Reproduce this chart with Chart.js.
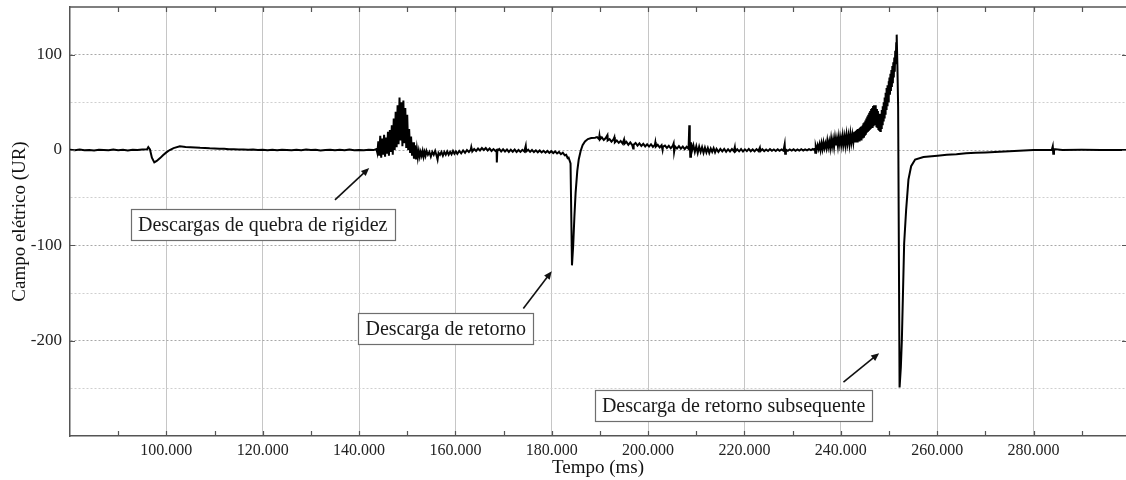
<!DOCTYPE html>
<html>
<head>
<meta charset="utf-8">
<script src="https://cdn.jsdelivr.net/npm/chart.js@4.4.1/dist/chart.umd.min.js"></script>
<style>
    html, body { margin: 0; padding: 0; background: #fff; }
</style>
</head>
<body>
<canvas id="fieldChart" width="1126" height="480"></canvas>
<script>
// ### FIELD RECORD (time ms, field UR) ###
// Quiet stretch with the small dip near 97 ms
const quietStart = [
    [80, 0.3], [81, -0.2], [82, 0.4], [83, -0.3], [84, 0.1], [85, -0.4], [86, 0.3], [87, 0],
    [88, -0.3], [89, 0.4], [90, -0.2], [91, 0.2], [92, -0.4], [93, 0.3], [94, -0.1], [95, 0.5],
    [96, 0.8], [96.25, 3], [96.6, 0.5], [97.0, -8], [97.5, -13], [98.0, -11.5], [98.7, -8.5],
    [99.3, -5.5], [100, -2.5], [100.7, 0], [101.5, 2], [102.8, 3.8], [104, 3.2], [105, 2.9],
    [106, 2.7], [107, 2.3], [108, 2.2], [109, 1.8], [110, 1.7], [111, 1.3], [112, 1.2], [113, 0.9],
    [114, 0.8], [115, 0.5], [116, 0.6], [117, 0.2], [118, 0.4], [119, -0.1], [120, 0.3],
    [121, -0.2], [122, 0.2], [123, -0.3], [124, 0.3], [125, 0], [126, -0.3], [127, 0.2],
    [128, -0.2], [129, 0.4], [130, -0.1], [131, 0.2], [132, -0.4], [133, 0.1], [134, 0.3],
    [135, -0.3], [136, 0.2], [137, -0.2], [138, 0.4], [139, -0.3], [140, 0.1], [141, -0.2],
    [142, 0.3], [143, -0.1]
];

// Preliminary breakdown burst
const breakdownBurst = [
    [143.6, 1], [143.8, -3], [144.0, 9], [144.2, -6], [144.4, 15], [144.6, -8], [144.8, 12],
    [145.0, -5], [145.2, 16], [145.4, -7], [145.6, 13], [145.8, -4], [146.0, 19], [146.2, -6],
    [146.4, 21], [146.6, -2], [146.8, 26], [147.0, -5], [147.2, 33], [147.4, 0], [147.6, 40],
    [147.8, 3], [148.0, 47], [148.2, 6], [148.4, 55], [148.6, 10], [148.8, 50], [149.0, 4],
    [149.2, 52], [149.4, 7], [149.6, 44], [149.8, 2], [150.0, 37], [150.2, 0], [150.4, 22],
    [150.6, -3], [150.8, 14], [151.0, -6], [151.2, 8], [151.4, -9], [151.6, 5], [151.8, -10],
    [152.0, 1], [152.2, -8], [152.4, -1], [152.6, -7], [152.8, -2]
];

// Between the burst and the first return stroke
const beforeReturn = [
    [153.0, -6], [153.2, -1], [153.4, -7], [153.6, -2], [153.8, -6], [154.0, -1], [154.3, -5],
    [154.6, -2], [154.9, -7], [155.2, -2], [155.5, -5], [155.8, -1], [156.1, -6], [156.3, -10],
    [156.5, -3], [156.8, -5], [157.1, -2], [157.4, -6], [157.7, -2], [158.0, -5], [158.3, -1.5],
    [158.6, -5], [158.9, -2], [159.2, -4.5], [159.5, -1], [159.8, -4], [160.1, -1.5], [160.4, -4],
    [160.8, -1], [161.2, -3.5], [161.6, -0.5], [162.0, -3], [162.4, 0], [162.8, -2], [163.2, 0.5],
    [163.3, 3], [163.5, -1.5], [163.9, 1], [164.3, -1], [164.7, 1.5], [165.1, -0.5], [165.5, 2],
    [165.9, 0], [166.3, 2], [166.7, -0.5], [167.1, 1.5], [167.5, -1], [167.9, 1], [168.3, -1],
    [168.55, 0], [168.6, -13], [168.7, -1], [169.1, 1], [169.5, -1.5], [169.9, 0.8], [170.3, -1.5],
    [170.7, 0.5], [171.1, -2], [171.5, 0.3], [171.9, -1.8], [172.3, 0.5], [172.7, -2], [173.1, 0],
    [173.5, -2], [173.9, 0.2], [174.3, -1.5], [174.6, 4.5], [174.7, -1.5], [175.1, 0.3], [175.5, -2],
    [175.9, 0], [176.3, -2.2], [176.7, -0.3], [177.1, -2.4], [177.5, -0.5], [177.9, -2.6],
    [178.3, -0.8], [178.7, -2.8], [179.1, -1], [179.5, -3], [179.9, -1.2], [180.3, -3.2],
    [180.7, -1.5], [181.1, -3.6], [181.5, -2], [181.9, -4.4], [182.3, -2.8], [182.7, -5.5],
    [183.0, -5], [183.3, -8.5], [183.5, -8], [183.7, -11]
];

// First return stroke
const firstReturn = [
    [183.9, -14], [184.2, -121], [184.45, -100], [184.7, -70], [184.95, -45], [185.3, -22],
    [185.6, -10], [186.0, -1], [186.4, 5], [186.9, 9], [187.5, 11.5], [188.2, 12.5], [189.0, 12.8]
];

// Interval between strokes
const interStroke = [
    [189.4, 13.5], [189.8, 11.5], [189.9, 15], [190.0, 11], [190.4, 13.2], [190.8, 10.5],
    [191.2, 12.5], [191.55, 15.5], [191.6, 10], [192.0, 11.5], [192.4, 8.8], [192.8, 11],
    [193.0, 13.5], [193.1, 8], [193.5, 10], [193.9, 7.5], [194.3, 9.5], [194.7, 6.8], [195.0, 11],
    [195.1, 6.5], [195.5, 8.5], [195.9, 5.5], [196.3, 8], [196.7, 5.2], [196.9, 1.5], [197.0, 5.5],
    [197.4, 7.4], [197.8, 4.6], [198.2, 7], [198.6, 4.2], [199.0, 6.5], [199.4, 3.8], [199.8, 6],
    [200.2, 3.6], [200.6, 6], [201.0, 3.2], [201.4, 5.4], [201.5, 8], [201.6, 3.5], [202.0, 5.4],
    [202.4, 2.8], [202.8, 5], [203.0, 0], [203.1, 3.5], [203.5, 4.6], [203.9, 2.2], [204.3, 4.4],
    [204.7, 1.8], [205.1, 4.2], [205.3, 7], [205.4, -2], [205.6, 3.8], [206.0, 1.5], [206.4, 4],
    [206.8, 1.4], [207.2, 3.6], [207.6, 1], [208.0, 3.4], [208.4, 1.2], [208.55, 26], [208.65, 10],
    [208.75, -7], [208.9, 8], [209.1, -1], [209.4, 5], [209.7, -2], [210.0, 4], [210.3, -3],
    [210.6, 3.5], [210.9, -2], [211.2, 3], [211.5, -3], [211.8, 2.5], [212.1, -2.5], [212.4, 2],
    [212.7, -3], [213.0, 1.5], [213.3, -2], [213.6, 2], [213.9, -2.5], [214.2, 1.2], [214.6, -2],
    [215.0, 1], [215.4, -1.5], [215.8, 1.2], [216.2, -1.8], [216.6, 0.8], [217.0, -1.5], [217.4, 1],
    [217.8, -1.2], [218.0, 3], [218.1, -1.5], [218.5, 0.8], [218.9, -1.4], [219.3, 1], [219.7, -1.6],
    [220.1, 0.7], [220.5, -1.2], [220.9, 1.1], [221.3, -1.3], [221.7, 0.6], [222.1, -1.4],
    [222.5, 0.9], [222.9, -1], [223.2, 2.5], [223.3, -1.2], [223.7, 0.8], [224.1, -1.1], [224.5, 0.6],
    [224.9, -1], [225.3, 0.9], [225.7, -0.8], [226.1, 0.6], [226.5, -1], [226.9, 0.7], [227.3, -0.8],
    [227.7, 0.5], [228.1, -0.7], [228.35, 6], [228.45, -4], [228.6, 0.5], [229.0, -0.8], [229.4, 0.6],
    [229.8, -0.6], [230.2, 0.7], [230.6, -0.8], [231.0, 0.5], [231.4, -0.6], [231.8, 0.8],
    [232.2, -0.5], [232.6, 0.7], [233.0, -0.4], [233.4, 0.9], [233.8, -0.2], [234.2, 1], [234.5, 0]
];

// Field build-up ahead of the subsequent stroke
const leaderRise = [
    [234.6, 2], [234.7, -3], [234.8, 4], [235.0, 0], [235.2, 5], [235.4, 1], [235.6, 6], [235.8, 0],
    [236.0, 7], [236.2, 1], [236.4, 8], [236.6, 2], [236.8, 7], [237.0, 2], [237.2, 10], [237.4, 3],
    [237.6, 9], [237.8, 2], [238.0, 12], [238.2, 4], [238.4, 11], [238.6, 3], [238.8, 13], [239.0, 5],
    [239.2, 12], [239.4, 4], [239.6, 14], [239.8, 6], [240.0, 13], [240.2, 5], [240.4, 15], [240.6, 6],
    [240.8, 14], [241.0, 5], [241.2, 16], [241.4, 7], [241.6, 15], [241.8, 6], [242.0, 17], [242.2, 8],
    [242.4, 16], [242.6, 8], [242.8, 19], [243.0, 9],
    [243.1, 20], [243.2, 10], [243.3, 21], [243.4, 9], [243.5, 22], [243.6, 11], [243.7, 21],
    [243.8, 10], [243.9, 23], [244.0, 12], [244.1, 24], [244.2, 11], [244.3, 25], [244.4, 13],
    [244.5, 26], [244.6, 14], [244.7, 28], [244.8, 13], [244.9, 29], [245.0, 15], [245.1, 31],
    [245.2, 16], [245.3, 33], [245.4, 18], [245.5, 35], [245.6, 19], [245.7, 37], [245.8, 20],
    [245.9, 39], [246.0, 21], [246.1, 41], [246.2, 22], [246.3, 43], [246.4, 24], [246.5, 44],
    [246.6, 23], [246.7, 46], [246.8, 25], [246.9, 47], [247.0, 26], [247.1, 47], [247.2, 27],
    [247.3, 45], [247.4, 25], [247.5, 43], [247.6, 24], [247.7, 41], [247.8, 22], [247.9, 38],
    [248.0, 21], [248.1, 36], [248.2, 20], [248.3, 38], [248.4, 23], [248.5, 42], [248.6, 27],
    [248.7, 46], [248.8, 31], [248.9, 50], [249.0, 34], [249.1, 55], [249.2, 38], [249.3, 60],
    [249.4, 43], [249.5, 65], [249.6, 47], [249.7, 68], [249.8, 51], [249.9, 72], [250.0, 55],
    [250.1, 76], [250.2, 58], [250.3, 80], [250.4, 62], [250.5, 84], [250.6, 66], [250.7, 88],
    [250.8, 70], [250.9, 92], [251.0, 76], [251.1, 97], [251.2, 82], [251.3, 104], [251.4, 90],
    [251.5, 112], [251.6, 121], [251.75, 88], [251.9, 45]
];

// Subsequent return stroke and slow recovery
const subsequentReturn = [
    [252.2, -249], [252.46, -228], [252.67, -200], [253.15, -98], [253.56, -63], [254.04, -31],
    [254.6, -17], [255.43, -10], [257.16, -7.4], [260.07, -6], [262, -5], [264, -4.5],
    [266, -3.5], [268, -3], [270, -2.5], [272, -2], [274, -1.5], [276, -1], [278, -0.5],
    [280, 0], [283.8, 0.3], [284.0, 4], [284.1, -4], [284.25, 1], [286, 0], [290, 0.2],
    [294, 0], [299.5, 0]
];

// ### AXES ###
const timeTicks = [100, 120, 140, 160, 180, 200, 220, 240, 260, 280];
const timeMinor = [90, 110, 130, 150, 170, 190, 210, 230, 250, 270, 290];
const fieldGrid = [-250, -200, -150, -100, -50, 0, 50, 100];
const fieldTicks = [-200, -100, 0, 100];

// ### CALLOUTS ###
const notes = [
    { text: 'Descargas de quebra de rigidez', t: 120, v: -78.6, from: [135.0, -52.3], to: [142.1, -18.9] },
    { text: 'Descarga de retorno', t: 158, v: -187.6, from: [174.1, -166.3], to: [180.0, -127.1] },
    { text: 'Descarga de retorno subsequente', t: 217.75, v: -268.1, from: [240.55, -243.6], to: [247.96, -213.1] }
];

const SERIF = "'Liberation Serif', 'DejaVu Serif', serif";

const points = [].concat(quietStart, breakdownBurst, beforeReturn, firstReturn,
    interStroke, leaderRise, subsequentReturn).map(p => ({ x: p[0], y: p[1] }));

// Frame on top plus inward tick marks on all sides
const framePlugin = {
    id: 'frame',
    afterDraw(chart) {
        const { ctx, chartArea: a, scales: { x, y } } = chart;
        ctx.save();
        ctx.strokeStyle = '#555';
        ctx.lineWidth = 1.5;
        ctx.beginPath();
        ctx.moveTo(a.left, a.top);
        ctx.lineTo(a.right, a.top);
        ctx.stroke();

        ctx.lineWidth = 1.2;
        ctx.beginPath();
        timeTicks.concat(timeMinor).forEach(v => {
            const px = Math.round(x.getPixelForValue(v)) + 0.5;
            ctx.moveTo(px, a.bottom);
            ctx.lineTo(px, a.bottom - 5);
            ctx.moveTo(px, a.top);
            ctx.lineTo(px, a.top + 5);
        });
        fieldTicks.forEach(v => {
            const py = Math.round(y.getPixelForValue(v)) + 0.5;
            ctx.moveTo(a.left, py);
            ctx.lineTo(a.left + 5, py);
            ctx.moveTo(a.right, py);
            ctx.lineTo(a.right - 4, py);
        });
        ctx.stroke();
        ctx.restore();
    }
};

// Boxed labels with arrows
const notesPlugin = {
    id: 'notes',
    afterDraw(chart) {
        const { ctx, scales: { x, y } } = chart;
        ctx.save();
        ctx.font = '20px ' + SERIF;
        notes.forEach(n => {
            const cx = x.getPixelForValue(n.t);
            const cy = y.getPixelForValue(n.v);
            const w = Math.round(ctx.measureText(n.text).width + 14);
            const h = 31;
            const bx = Math.round(cx - w / 2) + 0.5;
            const by = Math.round(cy - h / 2) + 0.5;
            ctx.fillStyle = '#fff';
            ctx.fillRect(bx, by, w, h);
            ctx.strokeStyle = '#6e6e6e';
            ctx.lineWidth = 1.2;
            ctx.strokeRect(bx, by, w, h);
            ctx.fillStyle = '#1a1a1a';
            ctx.textAlign = 'center';
            ctx.textBaseline = 'middle';
            ctx.fillText(n.text, cx, cy + 1);

            // arrow
            const x1 = x.getPixelForValue(n.from[0]), y1 = y.getPixelForValue(n.from[1]);
            const x2 = x.getPixelForValue(n.to[0]), y2 = y.getPixelForValue(n.to[1]);
            const ang = Math.atan2(y2 - y1, x2 - x1);
            const len = 8, half = 3.5;
            ctx.strokeStyle = '#111';
            ctx.lineWidth = 1.6;
            ctx.beginPath();
            ctx.moveTo(x1, y1);
            ctx.lineTo(x2 - Math.cos(ang) * len * 0.8, y2 - Math.sin(ang) * len * 0.8);
            ctx.stroke();
            ctx.fillStyle = '#111';
            ctx.beginPath();
            ctx.moveTo(x2, y2);
            ctx.lineTo(x2 - Math.cos(ang) * len - Math.sin(ang) * half, y2 - Math.sin(ang) * len + Math.cos(ang) * half);
            ctx.lineTo(x2 - Math.cos(ang) * len + Math.sin(ang) * half, y2 - Math.sin(ang) * len - Math.cos(ang) * half);
            ctx.closePath();
            ctx.fill();
        });
        ctx.restore();
    }
};

const ctx = document.getElementById('fieldChart').getContext('2d');
new Chart(ctx, {
    type: 'line',
    data: {
        datasets: [{
            data: points,
            borderColor: '#000',
            borderWidth: 2,
            pointRadius: 0,
            tension: 0,
            fill: false
        }]
    },
    options: {
        responsive: false,
        animation: false,
        parsing: false,
        normalized: true,
        devicePixelRatio: 1,
        layout: { padding: { top: 7, right: 0, left: 0, bottom: 0 } },
        plugins: {
            legend: { display: false },
            tooltip: { enabled: false }
        },
        scales: {
            x: {
                type: 'linear',
                min: 80,
                max: 299.2,
                afterBuildTicks: s => { s.ticks = timeTicks.map(v => ({ value: v })); },
                afterFit: s => { s.height = 44; s.paddingLeft = 0; s.paddingRight = 0; },
                grid: { color: '#c6c6c6', lineWidth: 1, drawTicks: false },
                border: { color: '#555', width: 1.5 },
                ticks: {
                    font: { family: SERIF, size: 16 },
                    color: '#222',
                    padding: 5,
                    maxRotation: 0,
                    callback: v => v + '.000'
                },
                title: {
                    display: true,
                    text: 'Tempo (ms)',
                    font: { family: SERIF, size: 19 },
                    color: '#111',
                    padding: { top: 0, bottom: 1 }
                }
            },
            y: {
                min: -300,
                max: 150,
                afterBuildTicks: s => { s.ticks = fieldGrid.map(v => ({ value: v })); },
                afterFit: s => { s.width = 70; s.paddingTop = 0; s.paddingBottom = 0; },
                grid: {
                    color: c => (c.tick && fieldTicks.includes(c.tick.value)) ? '#a8a8a8' : '#cfcfcf',
                    lineWidth: 1,
                    drawTicks: false
                },
                border: { color: '#555', width: 1.5, dash: [2, 2] },
                ticks: {
                    font: { family: SERIF, size: 17 },
                    color: '#222',
                    padding: 8,
                    callback: v => fieldTicks.includes(v) ? String(v) : ''
                },
                title: {
                    display: true,
                    text: 'Campo elétrico (UR)',
                    font: { family: SERIF, size: 19 },
                    color: '#111',
                    padding: { top: 9 }
                }
            }
        }
    },
    plugins: [framePlugin, notesPlugin]
});
</script>
</body>
</html>
